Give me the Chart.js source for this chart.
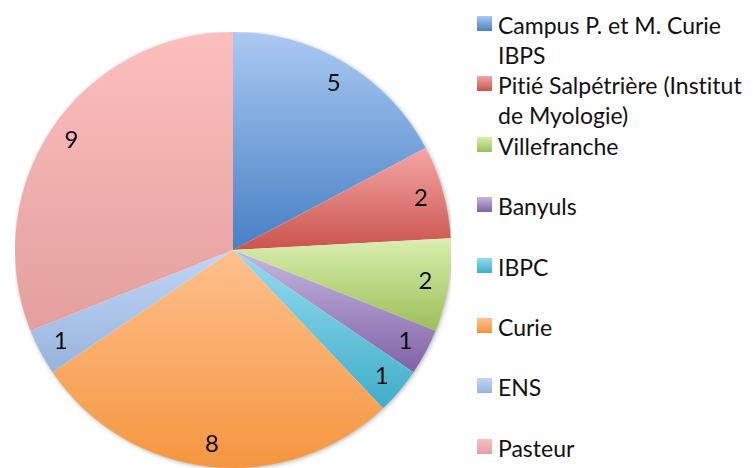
<!DOCTYPE html>
<html lang="fr">
<head>
<meta charset="UTF-8">
<title>Pie</title>
<script src="https://cdn.jsdelivr.net/npm/chart.js"></script>
<style>
    html, body { margin: 0; padding: 0; background: #fff; overflow: hidden; }
    body { width: 753px; height: 468px; position: relative; font-family: Lato, "Open Sans", sans-serif; }
    #pieBox { position: absolute; left: 15px; top: 32px; width: 436px; height: 436px; }
    #legend { position: absolute; left: 477px; top: 0; width: 276px; height: 468px; }
    .item { position: absolute; left: 0; display: flex; align-items: flex-start; font-size: 23px; line-height: 30px; color: #111; white-space: nowrap; font-variant-ligatures: none; }
    .swatch { width: 15px; height: 15px; margin-top: 6px; margin-right: 6px; flex: none; }
</style>
</head>
<body>
<div id="pieBox"><canvas id="pie"></canvas></div>
<div id="legend"></div>

<script>
    const labels = [
        ['Campus P. et M. Curie', 'IBPS'],
        ['Pitié Salpétrière (Institut', 'de Myologie)'],
        ['Villefranche'],
        ['Banyuls'],
        ['IBPC'],
        ['Curie'],
        ['ENS'],
        ['Pasteur']
    ];
    const values = [5, 2, 2, 1, 1, 8, 1, 9];
    // light (top) / dark (bottom) colour of each slice gradient
    const lightColors = ['#abc9f2', '#f4a7a5', '#d9efb0', '#c6b6e0', '#95dcf0', '#fec08e', '#c1d6f7', '#fcbfbd'];
    const darkColors  = ['#4680c4', '#cb534e', '#9cbf57', '#8062a6', '#3fadc9', '#f5963f', '#97b3dc', '#e29f9e'];

    // legend, built from the same arrays
    const legend = document.getElementById('legend');
    labels.forEach((lines, i) => {
        const item = document.createElement('div');
        item.className = 'item';
        item.style.top = (10 + i * 60.4) + 'px';
        const sw = document.createElement('div');
        sw.className = 'swatch';
        sw.style.background = `linear-gradient(${lightColors[i]}, ${darkColors[i]})`;
        const txt = document.createElement('div');
        txt.innerHTML = lines.join('<br>');
        item.appendChild(sw);
        item.appendChild(txt);
        legend.appendChild(item);
    });

    // vertical gradient over the bounding box of each slice
    function sliceGradient(context) {
        const chart = context.chart;
        const area = chart.chartArea;
        if (!area) return lightColors[context.dataIndex];
        const i = context.dataIndex;
        const cx = (area.left + area.right) / 2;
        const cy = (area.top + area.bottom) / 2;
        const r = Math.min(area.right - area.left, area.bottom - area.top) / 2;
        const total = values.reduce((a, b) => a + b, 0);
        let before = 0;
        for (let k = 0; k < i; k++) before += values[k];
        const a0 = -Math.PI / 2 + before / total * Math.PI * 2;
        const a1 = a0 + values[i] / total * Math.PI * 2;
        const ys = [cy, cy + Math.sin(a0) * r, cy + Math.sin(a1) * r];
        const crosses = (a) => {
            for (let t = a - Math.PI * 2; t < a1 + 1e-9; t += Math.PI * 2) {
                if (t >= a0) return true;
            }
            return false;
        };
        if (crosses(-Math.PI / 2)) ys.push(cy - r);
        if (crosses(Math.PI / 2)) ys.push(cy + r);
        const top = Math.min(...ys), bottom = Math.max(...ys);
        const g = chart.ctx.createLinearGradient(0, top, 0, bottom);
        g.addColorStop(0, lightColors[i]);
        g.addColorStop(1, darkColors[i]);
        return g;
    }

    const shadowPlugin = {
        id: 'pieShadow',
        beforeDatasetsDraw(chart) {
            const arc = chart.getDatasetMeta(0).data[0];
            if (!arc) return;
            const ctx = chart.ctx;
            ctx.save();
            ctx.beginPath();
            ctx.arc(arc.x, arc.y, arc.outerRadius - 0.5, 0, Math.PI * 2);
            ctx.shadowColor = 'rgba(0,0,0,0.35)';
            ctx.shadowBlur = 5;
            ctx.shadowOffsetX = 1;
            ctx.shadowOffsetY = 1;
            ctx.fillStyle = '#fff';
            ctx.fill();
            ctx.restore();
        }
    };

    const valueLabels = {
        id: 'valueLabels',
        afterDatasetsDraw(chart) {
            const ctx = chart.ctx;
            ctx.save();
            ctx.font = '24px Lato, "Open Sans", sans-serif';
            ctx.fillStyle = '#0a0a0a';
            ctx.textAlign = 'center';
            ctx.textBaseline = 'middle';
            chart.getDatasetMeta(0).data.forEach((arc, i) => {
                const mid = (arc.startAngle + arc.endAngle) / 2;
                const r = arc.outerRadius * 0.895;
                ctx.fillText(String(values[i]), arc.x + Math.cos(mid) * r, arc.y + Math.sin(mid) * r);
            });
            ctx.restore();
        }
    };

    new Chart(document.getElementById('pie'), {
        type: 'pie',
        data: {
            labels: labels,
            datasets: [{
                data: values,
                backgroundColor: sliceGradient,
                borderWidth: 0
            }]
        },
        options: {
            responsive: true,
            maintainAspectRatio: false,
            animation: false,
            layout: { padding: 0 },
            plugins: {
                legend: { display: false },
                tooltip: { enabled: false }
            }
        },
        plugins: [shadowPlugin, valueLabels]
    });
</script>
</body>
</html>
